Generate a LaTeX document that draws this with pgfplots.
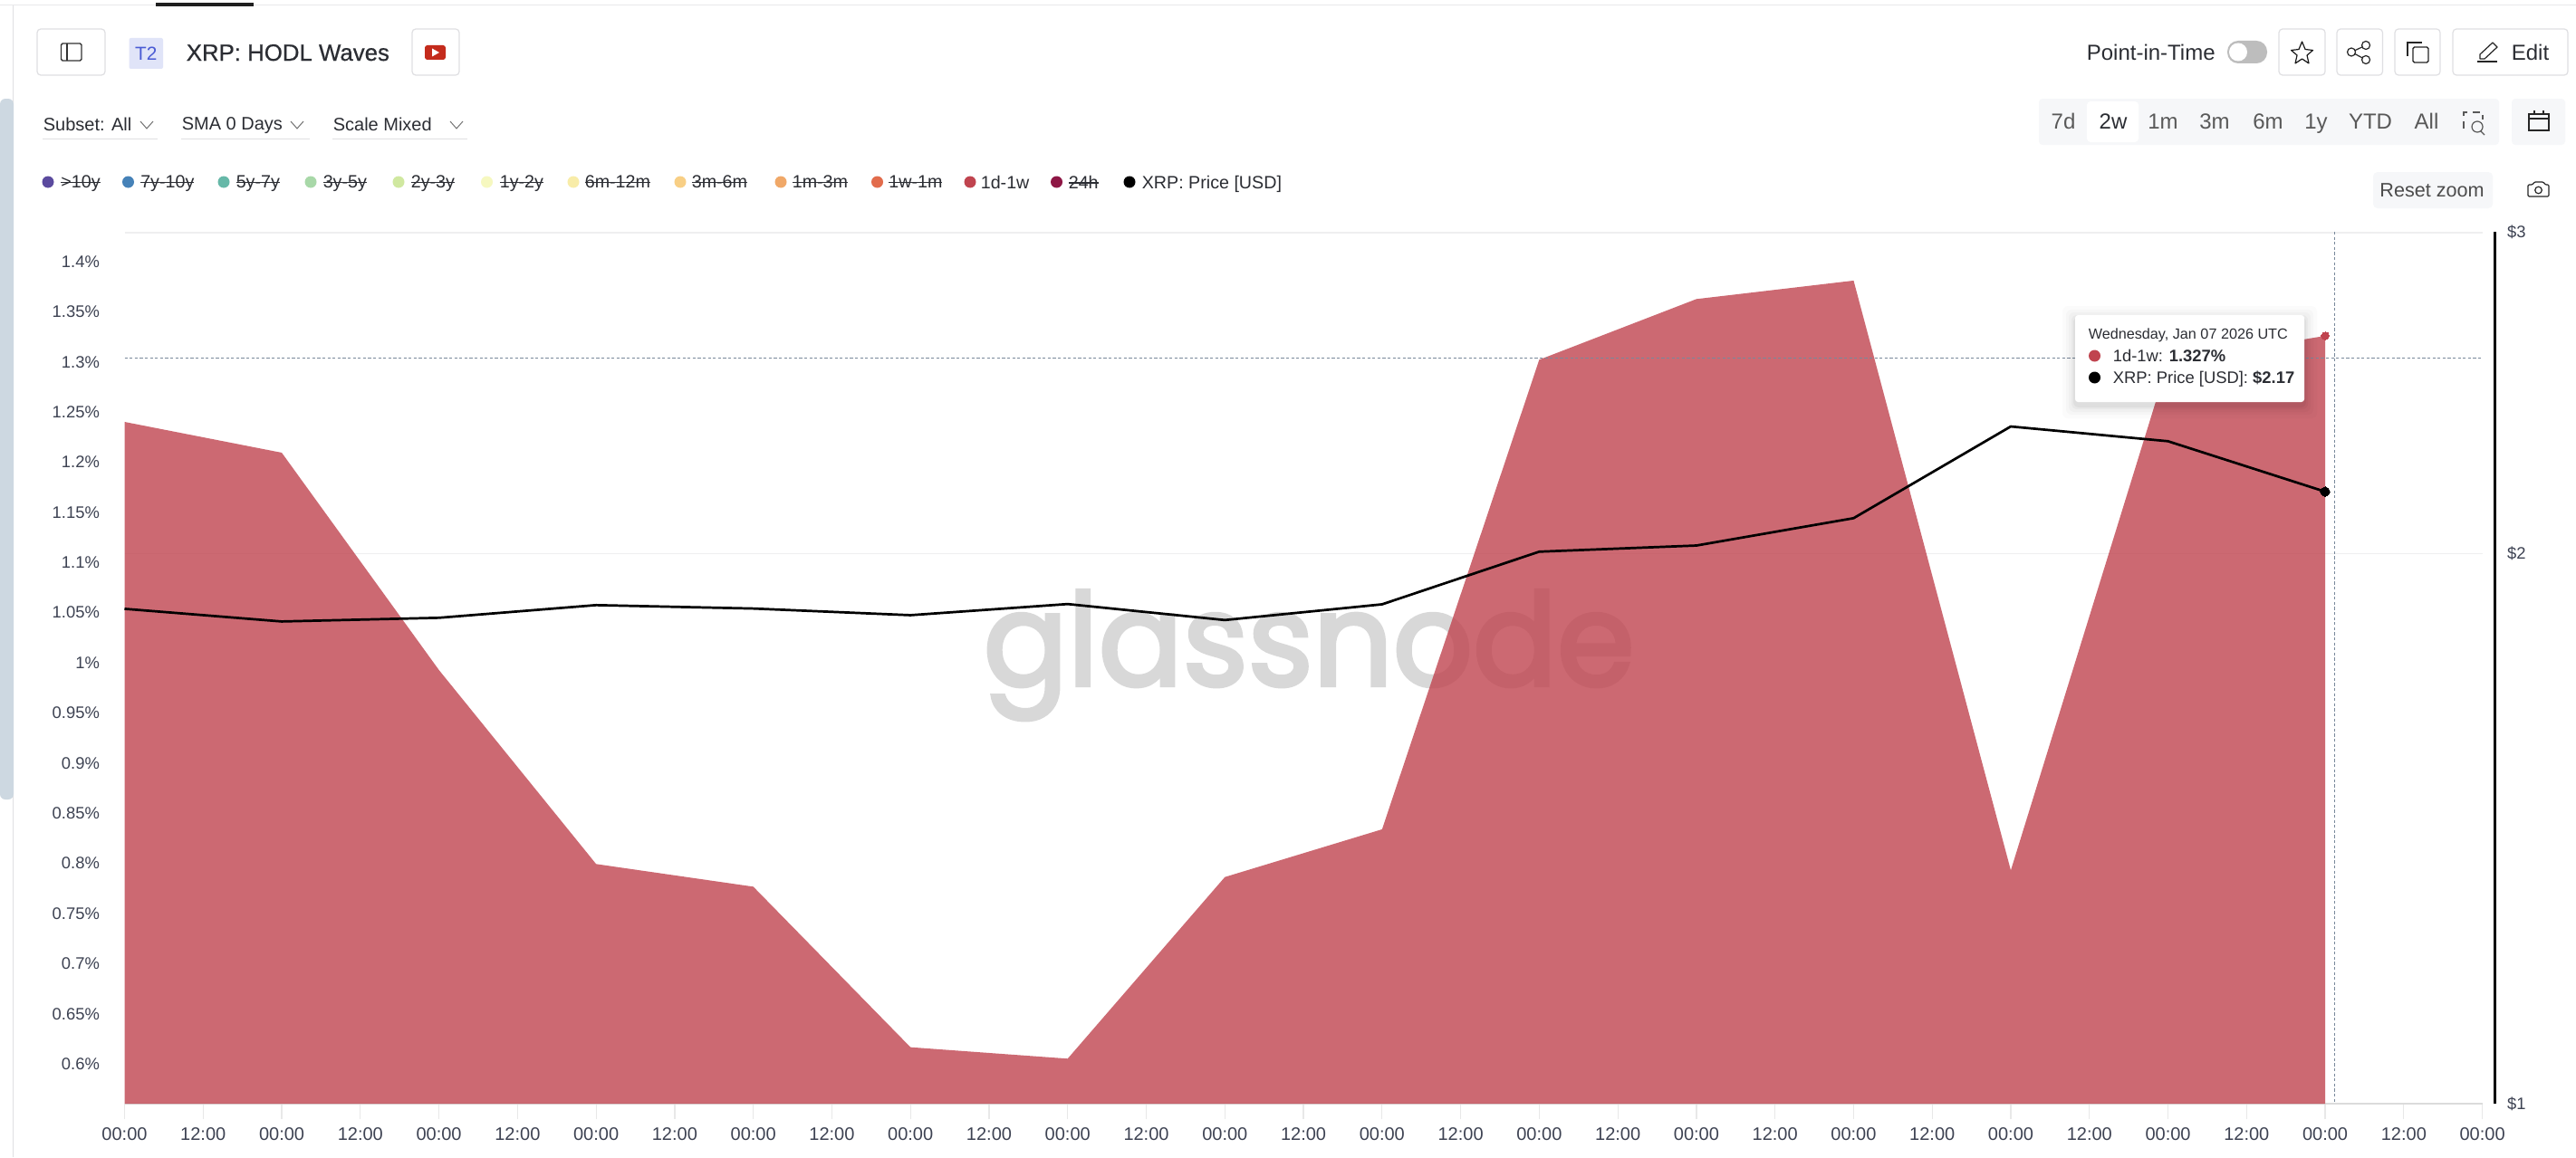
\documentclass[border=0pt]{standalone}
\usepackage{fontspec}
\setmainfont{Liberation Sans}
\newfontfamily\wm{Poppins}[FakeStretch=0.97,FakeBold=3]
\newfontfamily\med{Liberation Sans}[FakeBold=0.5]
\newfontfamily\sym{DejaVu Sans}
\usepackage{pgfplots}
\pgfplotsset{compat=1.18}
\usetikzlibrary{calc}
\definecolor{tickc}{HTML}{3D4252}
\definecolor{txtc}{HTML}{2B2D33}
\definecolor{borderc}{HTML}{DFDFE2}
\definecolor{gridc}{HTML}{EFEFF0}
\definecolor{crossc}{HTML}{78889A}
\definecolor{wave}{HTML}{C0444F}
\definecolor{barbg}{HTML}{F6F7F9}
\definecolor{scrollc}{RGB}{205,216,225}
\definecolor{badgebg}{RGB}{224,228,248}
\definecolor{badgefg}{RGB}{74,91,212}
\definecolor{ytred}{RGB}{196,43,28}
\definecolor{wmc}{RGB}{216,216,216}
\definecolor{la}{RGB}{91,74,158}
\definecolor{lb}{RGB}{70,130,184}
\definecolor{lc}{RGB}{102,184,168}
\definecolor{ld}{RGB}{168,216,168}
\definecolor{le}{RGB}{208,232,160}
\definecolor{lf}{RGB}{246,248,192}
\definecolor{lg}{RGB}{248,236,168}
\definecolor{lh}{RGB}{248,207,133}
\definecolor{li}{RGB}{240,168,104}
\definecolor{lj}{RGB}{226,108,76}
\definecolor{lk}{RGB}{142,23,69}
\newcommand\fs[1]{\fontsize{#1pt}{#1pt}\selectfont}
\newcommand\strike[1]{\setbox0\hbox{#1}\rlap{\rule[0.28em]{\wd0}{0.28pt}}\box0}
\tikzset{px/.style={x=0.25pt,y=-0.25pt,yshift=319.5pt},
 btn/.style={draw=borderc,line width=0.3pt,rounded corners=1pt,fill=white},
 lbl/.style={anchor=west,inner sep=0pt,text=txtc,text depth=0pt},
 ctr/.style={anchor=center,inner sep=0pt,text depth=0pt}}
\newcommand\legdot[4]{% x dot, x text, colour, text
 \fill[#3] (#1,201) circle (6.5);
 \node[lbl] at (#2,201) {\fs{4.92}#4};}
\begin{document}
\begin{tikzpicture}
\useasboundingbox (0,0) rectangle (711pt,319.5pt);
\fill[white] (0,0) rectangle (711pt,319.5pt);
\begin{scope}[px]
 % page chrome
 \draw[borderc!70!white,line width=0.4pt] (0,5.5) -- (2844,5.5);
 \fill[black!88] (172,3.5) rectangle (280,7);
 \draw[borderc,line width=0.3pt] (14.5,6) -- (14.5,1278);
 \fill[scrollc,rounded corners=1.5pt] (0,109) rectangle (15,883);
 % header left
 \draw[btn] (41,32) rectangle (116,83);
 \draw[black!80,line width=0.35pt,rounded corners=0.4pt] (67.5,48) rectangle (90,67);
 \draw[black!80,line width=0.35pt] (74,48) -- (74,67);
 \fill[badgebg,rounded corners=0.5pt] (142.5,42) rectangle (180,76);
 \node[ctr,text=badgefg] at (161.25,59) {\fs{5.2}T2};
 \node[lbl] at (205,58) {\med\fs{6.45}XRP: HODL Waves};
 \draw[btn] (455,32) rectangle (507,83);
 \fill[ytred,rounded corners=0.7pt] (469,50) rectangle (492,66);
 \fill[white] (477,53.5) -- (485,58) -- (477,62.5) -- cycle;
 % dropdowns
 \node[lbl] at (47,137) {\fs{5}Subset: All};
 \node[lbl] at (200,137) {\fs{5}SMA 0 Days};
 \node[lbl] at (367,137) {\fs{5}Scale Mixed};
 \foreach \c in {162,328,504}
  \draw[black!55,line width=0.25pt] (\c-7,134) -- (\c,142) -- (\c+7,134);
 \draw[borderc,line width=0.3pt] (47,153.5) -- (174,153.5);
 \draw[borderc,line width=0.3pt] (200,153.5) -- (342,153.5);
 \draw[borderc,line width=0.3pt] (367,153.5) -- (516,153.5);
 % legend
 \legdot{53}{66.6}{la}{\strike{>10y}}
 \legdot{141.5}{154.5}{lb}{\strike{7y-10y}}
 \legdot{247}{260}{lc}{\strike{5y-7y}}
 \legdot{343}{356}{ld}{\strike{3y-5y}}
 \legdot{440}{453}{le}{\strike{2y-3y}}
 \legdot{537.5}{551}{lf}{\strike{1y-2y}}
 \legdot{633}{645}{lg}{\strike{6m-12m}}
 \legdot{751}{763}{lh}{\strike{3m-6m}}
 \legdot{862}{874}{li}{\strike{1m-3m}}
 \legdot{968.5}{980.6}{lj}{\strike{1w-1m}}
 \legdot{1071}{1082}{wave}{1d-1w}
 \legdot{1166.5}{1179}{lk}{\strike{24h}}
 \legdot{1247}{1260}{black}{XRP: Price [USD]}
 % header right
 \node[lbl] at (2303,58) {\fs{6}Point-in-Time};
 \fill[black!26,rounded corners=3pt] (2459,45) rectangle (2503,70);
 \fill[white] (2471,57.5) circle (10);
 \draw[btn] (2516,32) rectangle (2567,83);
 \draw[black!90,line width=0.3pt,line join=round] (2541.5,46) -- (2545,54.5) -- (2553.5,55.5) -- (2547,61) -- (2549,70) -- (2541.5,65) -- (2534,70) -- (2536,61) -- (2529.5,55.5) -- (2538,54.5) -- cycle;
 \draw[btn] (2580,32) rectangle (2630.5,83);
 \begin{scope}[black!85,line width=0.3pt]
  \draw (2612,50) -- (2596,57.5) -- (2612,66);
  \draw[fill=white] (2596,57.5) circle (4.5) (2612,50) circle (4.5) (2612,66) circle (4.5);
 \end{scope}
 \draw[btn] (2644,32) rectangle (2694,83);
 \draw[black!85,line width=0.3pt] (2658,62) -- (2658,47) -- (2674,47);
 \draw[black!85,line width=0.35pt,rounded corners=0.4pt,fill=white] (2664,52) rectangle (2681,69);
 \draw[btn] (2708,32) rectangle (2835,83);
 \draw[black!85,line width=0.3pt,line join=round] (2738,60) -- (2752,47) -- (2757,52) -- (2743,65) -- (2738,65) -- cycle;
 \draw[black!85,line width=0.3pt] (2735,68) -- (2757,68);
 \node[lbl] at (2772,58) {\fs{6}Edit};
 % range selector
 \fill[barbg,rounded corners=1pt] (2251,109) rectangle (2759,160);
 \fill[white,rounded corners=1pt] (2304,112) rectangle (2361,157);
 \foreach \xx/\tt in {2278/7d,2388/1m,2445/3m,2504/6m,2557/1y,2617/YTD,2679/All}
   \node[ctr,text=black!65] at (\xx,134) {\fs{6}\tt};
 \node[ctr,text=txtc] at (2333,134) {\fs{6}2w};
 \draw[black!65,line width=0.3pt,dash pattern=on 2pt off 1.5pt] (2720,142) -- (2720,124) -- (2741,124) -- (2741,132);
 \draw[black!65,line width=0.3pt] (2735,140) circle (6) (2739,145) -- (2743,149);
 \fill[barbg,rounded corners=1pt] (2773,109) rectangle (2832,160);
 \draw[black!85,line width=0.35pt] (2792,126) rectangle (2814,144) (2792,131) -- (2814,131) (2798,122) -- (2798,127) (2808,122) -- (2808,127);
 \fill[barbg,rounded corners=1.2pt] (2620,190) rectangle (2752,230);
 \node[ctr,text=black!70] at (2685,210) {\fs{5.4}Reset zoom};
 \draw[black!85,line width=0.3pt,rounded corners=0.3pt] (2791,204) -- (2796,204) -- (2798,201) -- (2808,201) -- (2810,204) -- (2814,204) -- (2814,217) -- (2791,217) -- cycle;
 \draw[black!85,line width=0.3pt] (2802.5,210) circle (3.8);
 % watermark
 \node[anchor=base west,inner sep=0pt,text=wmc] at (1085,757) {\wm\fs{35.5}glassnode};
\end{scope}

\begin{axis}[
 at={(34.375pt,14.75pt)},anchor=south west,
 scale only axis,width=650.775pt,height=240.75pt,
 xmin=0,xmax=15,ymin=0.5614,ymax=1.4309,
 axis x line*=bottom,axis y line*=left,
 axis line style={-},
 x axis line style={draw=black!14,line width=0.35pt},
 y axis line style={draw=none},
 xtick={0,0.5,1,1.5,2,2.5,3,3.5,4,4.5,5,5.5,6,6.5,7,7.5,8,8.5,9,9.5,10,10.5,11,11.5,12,12.5,13,13.5,14,14.5,15},
 xticklabels={00:00,12:00,00:00,12:00,00:00,12:00,00:00,12:00,00:00,12:00,00:00,12:00,00:00,12:00,00:00,12:00,00:00,12:00,00:00,12:00,00:00,12:00,00:00,12:00,00:00,12:00,00:00,12:00,00:00,12:00,00:00},
 xtick align=outside,ytick align=inside,
 major tick length=4.25pt,
 xtick style={draw=black!9,line width=0.3pt},
 ytick style={draw=none},
 ytick={0.6,0.65,0.7,0.75,0.8,0.85,0.9,0.95,1,1.05,1.1,1.15,1.2,1.25,1.3,1.35,1.4},
 yticklabels={0.6\%,0.65\%,0.7\%,0.75\%,0.8\%,0.85\%,0.9\%,0.95\%,1\%,1.05\%,1.1\%,1.15\%,1.2\%,1.25\%,1.3\%,1.35\%,1.4\%},
 xticklabel style={anchor=north,inner sep=0pt,yshift=-2.2pt,text=tickc,font=\fs{5}},
 yticklabel style={anchor=east,inner sep=0pt,xshift=-6.7pt,yshift=0.3pt,text=tickc,font=\fs{4.6}},
 extra y ticks={1.1101,1.4300},
 extra y tick labels={},
 extra y tick style={ymajorgrids=true,major grid style={draw=gridc,line width=0.35pt},tick style={draw=none}},
 clip=true,
]
\addplot[draw=none,fill=wave,fill opacity=0.8] coordinates {
 (0,1.2413)(1,1.2106)(2,0.9939)(3,0.8004)(4,0.7778)(5,0.6177)(6,0.6063)(7,0.7874)
 (8,0.8350)(9,1.3033)(10,1.3638)(11,1.3822)(12,0.7941)(13,1.3009)(14,1.3271)} \closedcycle;
\addplot[wave,only marks,mark=*,mark size=1.05pt,mark options={draw=wave,fill=wave,line width=0pt}] coordinates {(14,1.3271)};
\end{axis}

\begin{axis}[
 at={(34.375pt,14.75pt)},anchor=south west,
 scale only axis,width=654.25pt,height=240.75pt,
 xmin=0,xmax=15.0806,ymode=log,ymin=1,ymax=3,
 axis x line=none,axis y line*=right,
 axis line style={-},
 y axis line style={draw=black,line width=0.75pt},
 ytick={1,2,3},yticklabels={\$1,\$2,\$3},minor ytick={},
 ytick style={draw=none},ytick align=inside,
 yticklabel style={anchor=west,inner sep=0pt,xshift=3.2pt,text=tickc,font=\fs{4.6}},
 clip=false,
]
\addplot[black,line width=0.68pt,line join=round] coordinates {
 (0,1.8657)(1,1.8362)(2,1.8447)(3,1.8744)(4,1.8664)(5,1.8509)(6,1.8771)(7,1.8395)
 (8,1.8765)(9,2.0048)(10,2.0204)(11,2.0913)(12,2.3474)(13,2.3042)(14,2.1624)};
\addplot[black,only marks,mark=*,mark size=1.3pt,mark options={draw=black,fill=black,line width=0pt}] coordinates {(14,2.1624)};
\end{axis}

\begin{scope}[px]
 % crosshair
 \draw[crossc,line width=0.22pt,dash pattern=on 0.8pt off 0.6pt] (137.5,395.3) -- (2740,395.3);
 \draw[crossc,line width=0.22pt,dash pattern=on 0.8pt off 0.6pt] (2577.4,256) -- (2577.4,1219);
 % tooltip
 \foreach \s/\o in {14/0.015,10/0.02,7/0.025,4/0.03,2/0.04}
   \fill[black,opacity=\o,rounded corners=1.5pt] (2291-\s,348-\s+4) rectangle (2544+\s,444+\s+4);
 \fill[white,rounded corners=0.8pt] (2291,348) rectangle (2544,444);
 \node[lbl] at (2305,369) {\fs{4.05}Wednesday, Jan 07 2026 UTC};
 \fill[wave] (2312.5,393) circle (6.5);
 \node[lbl] at (2332,393) {\fs{4.6}1d-1w: \textbf{1.327\%}};
 \fill[black] (2312.5,417) circle (6.5);
 \node[lbl] at (2332,417) {\fs{4.6}XRP: Price [USD]: \textbf{\$2.17}};
\end{scope}
\end{tikzpicture}
\end{document}
